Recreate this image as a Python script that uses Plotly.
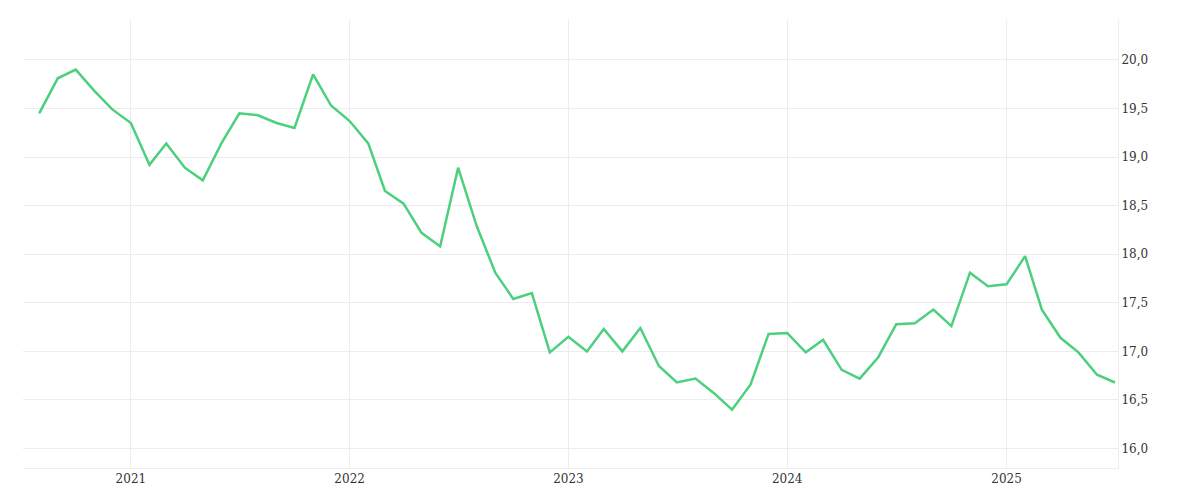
import plotly.graph_objects as go
import pandas as pd

dates = pd.date_range("2020-08-01", "2025-07-01", freq="MS")
values = [19.45,19.81,19.90,19.68,19.49,19.35,18.92,19.14,18.89,18.76,19.14,19.45,
19.43,19.35,19.30,19.85,19.53,19.37,19.14,18.65,18.52,18.22,18.08,18.89,
18.29,17.81,17.54,17.60,16.99,17.15,17.00,17.23,17.00,17.24,16.85,16.68,
16.72,16.57,16.40,16.66,17.18,17.19,16.99,17.12,16.81,16.72,16.94,17.28,
17.29,17.43,17.26,17.81,17.67,17.69,17.98,17.43,17.14,16.99,16.76,16.68]

fig = go.Figure(go.Scatter(x=dates, y=values, mode="lines",
    line=dict(color="#4cd07d", width=2.5)))
fig.update_layout(
    width=1200, height=500, margin=dict(l=15, r=90, t=12, b=40),
    plot_bgcolor="white", paper_bgcolor="white", showlegend=False,
    separators=",.",
    font=dict(family="DejaVu Serif", size=12, color="#333"),
    xaxis=dict(range=["2020-07-05", "2025-07-06"], showgrid=True, gridcolor="#ececec",
               dtick="M12", tick0="2021-01-01", tickformat="%Y", zeroline=False,
               showline=True, linecolor="#ececec"),
    yaxis=dict(side="right", range=[15.8, 20.41], dtick=0.5, tick0=16,
               tickformat=".1f", showgrid=True, gridcolor="#ececec", zeroline=False,
               showline=True, linecolor="#ececec", ticks=""),
)
fig.write_html("out.html")
